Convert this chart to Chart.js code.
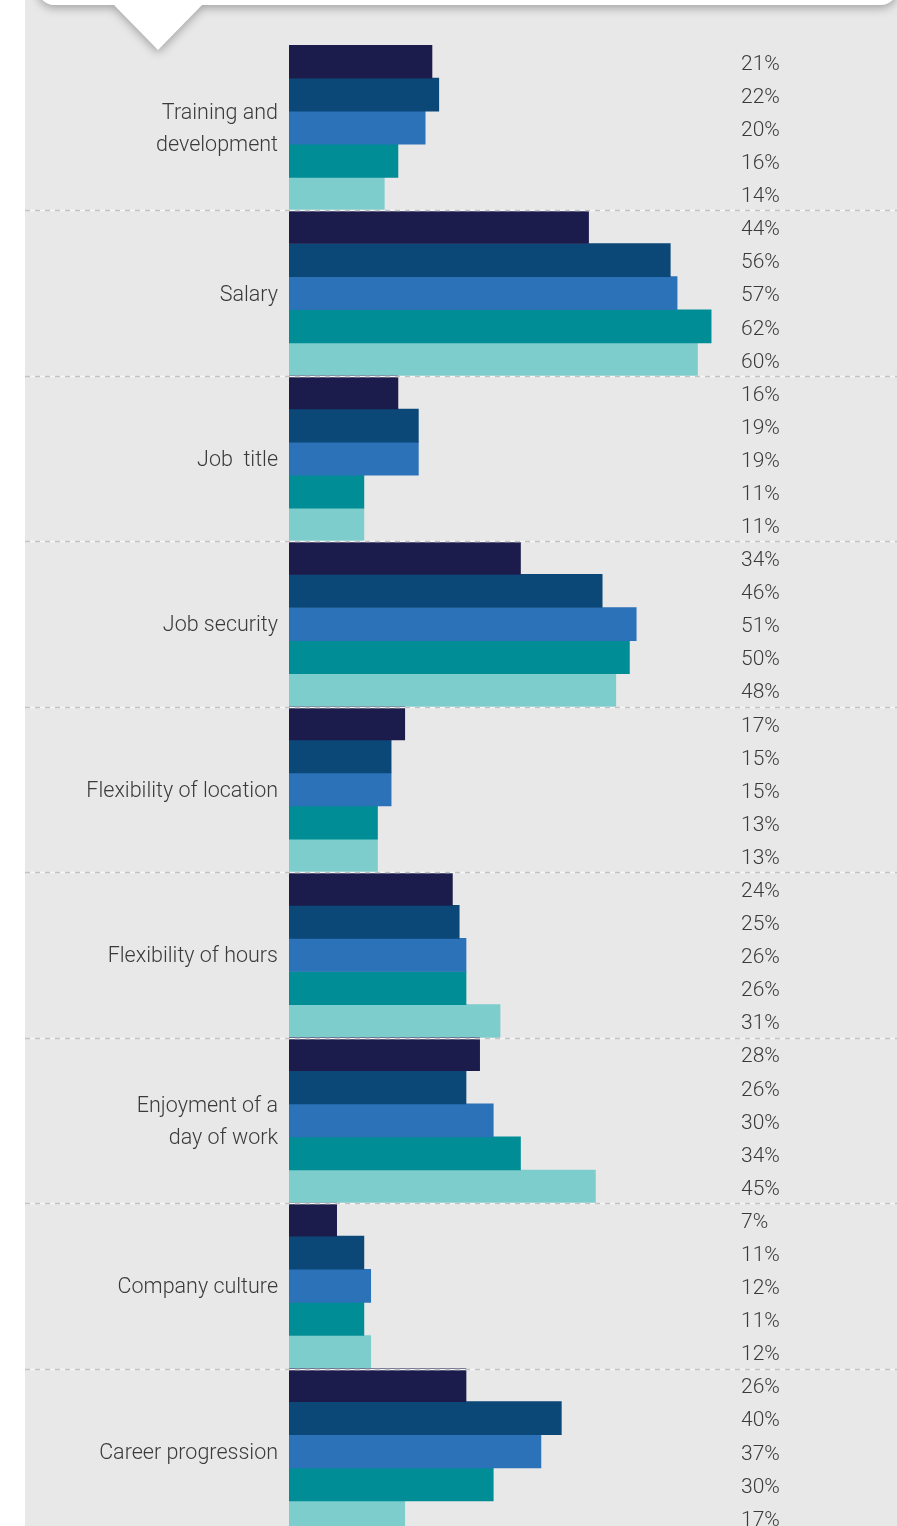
<!DOCTYPE html>
<html>
<head>
<meta charset="utf-8">
<script src="https://cdn.jsdelivr.net/npm/chart.js@4/dist/chart.umd.min.js"></script>
<style>
  html, body { margin: 0; padding: 0; background: #fff; overflow: hidden; }
  #panel { position: absolute; left: 25px; top: 0; width: 872px; height: 1526px; background: #e8e8e8; }
  #bubble { position: absolute; left: 0; top: 0; width: 897px; height: 60px; filter: drop-shadow(0 3px 5px rgba(0,0,0,0.3)); z-index: 2; }
  #box { position: absolute; left: 38px; top: -30px; width: 859px; height: 35px; background: #fff; border-radius: 0 0 16px 16px; }
  #tip { position: absolute; left: 113px; top: 4px; width: 90px; height: 46px; background: #fff; clip-path: polygon(0 0, 100% 0, 50% 100%); }
  #myChart { position: absolute; left: 0; top: 0; z-index: 1; }
</style>
</head>
<body>
<div id="panel"></div>
<div id="bubble"><div id="box"></div><div id="tip"></div></div>
<canvas id="myChart" width="897" height="1534"></canvas>
<script>
const categories = [
  ['Training and', 'development'],
  'Salary',
  'Job  title',
  'Job security',
  'Flexibility of location',
  'Flexibility of hours',
  ['Enjoyment of a', 'day of work'],
  'Company culture',
  'Career progression'
];
const series1 = [21, 44, 16, 34, 17, 24, 28, 7, 26];
const series2 = [22, 56, 19, 46, 15, 25, 26, 11, 40];
const series3 = [20, 57, 19, 51, 15, 26, 30, 12, 37];
const series4 = [16, 62, 11, 50, 13, 26, 34, 11, 30];
const series5 = [14, 60, 11, 48, 13, 31, 45, 12, 17];
const colors = ['#1c1c4c', '#0b4777', '#2b72b9', '#008d95', '#7dcdcd'];

// dashed separators between the groups
const dividers = {
  id: 'dividers',
  afterDatasetsDraw(chart) {
    const ctx = chart.ctx;
    const y = chart.scales.y;
    ctx.save();
    ctx.lineWidth = 1.5;
    for (let i = 0; i < categories.length - 1; i++) {
      const py = Math.round((y.getPixelForValue(i) + y.getPixelForValue(i + 1)) / 2) + 0.5;
      ctx.setLineDash([]);
      ctx.strokeStyle = '#f7f7f7';
      ctx.beginPath(); ctx.moveTo(25, py); ctx.lineTo(897, py); ctx.stroke();
      ctx.setLineDash([5, 5]);
      ctx.strokeStyle = '#c2c2c2';
      ctx.beginPath(); ctx.moveTo(25, py); ctx.lineTo(897, py); ctx.stroke();
    }
    ctx.restore();
  }
};

// percentages in the right column
const valueLabels = {
  id: 'valueLabels',
  afterDatasetsDraw(chart) {
    const ctx = chart.ctx;
    ctx.save();
    ctx.font = '300 21px Roboto, "Liberation Sans", sans-serif';
    ctx.fillStyle = '#3a3a3a';
    ctx.textAlign = 'left';
    ctx.textBaseline = 'middle';
    chart.data.datasets.forEach((ds, di) => {
      chart.getDatasetMeta(di).data.forEach((bar, i) => {
        ctx.fillText(ds.data[i] + '%', 741, bar.y + 3);
      });
    });
    ctx.restore();
  }
};

const ctx = document.getElementById('myChart').getContext('2d');
const myChart = new Chart(ctx, {
  type: 'bar',
  data: {
    labels: categories,
    datasets: [
      { label: 'Series 1', data: series1, backgroundColor: colors[0] },
      { label: 'Series 2', data: series2, backgroundColor: colors[1] },
      { label: 'Series 3', data: series3, backgroundColor: colors[2] },
      { label: 'Series 4', data: series4, backgroundColor: colors[3] },
      { label: 'Series 5', data: series5, backgroundColor: colors[4] }
    ]
  },
  options: {
    indexAxis: 'y',
    responsive: false,
    animation: false,
    categoryPercentage: 1,
    barPercentage: 1,
    layout: { padding: { top: 45, left: 0, right: 0, bottom: 0 } },
    plugins: { legend: { display: false }, tooltip: { enabled: false } },
    scales: {
      x: { display: false, min: 0, max: 89.3 },
      y: {
        grid: { display: false, drawTicks: false },
        border: { display: false },
        afterFit(scale) {
          scale.width = 289;
          scale.paddingTop = 0;
          scale.paddingBottom = 0;
        },
        ticks: {
          padding: 11,
          labelOffset: 2,
          color: '#3a3a3a',
          font: { family: 'Roboto, "Liberation Sans", sans-serif', weight: '300', size: 21.5, lineHeight: 1.5 }
        }
      }
    }
  },
  plugins: [dividers, valueLabels]
});
</script>
</body>
</html>
